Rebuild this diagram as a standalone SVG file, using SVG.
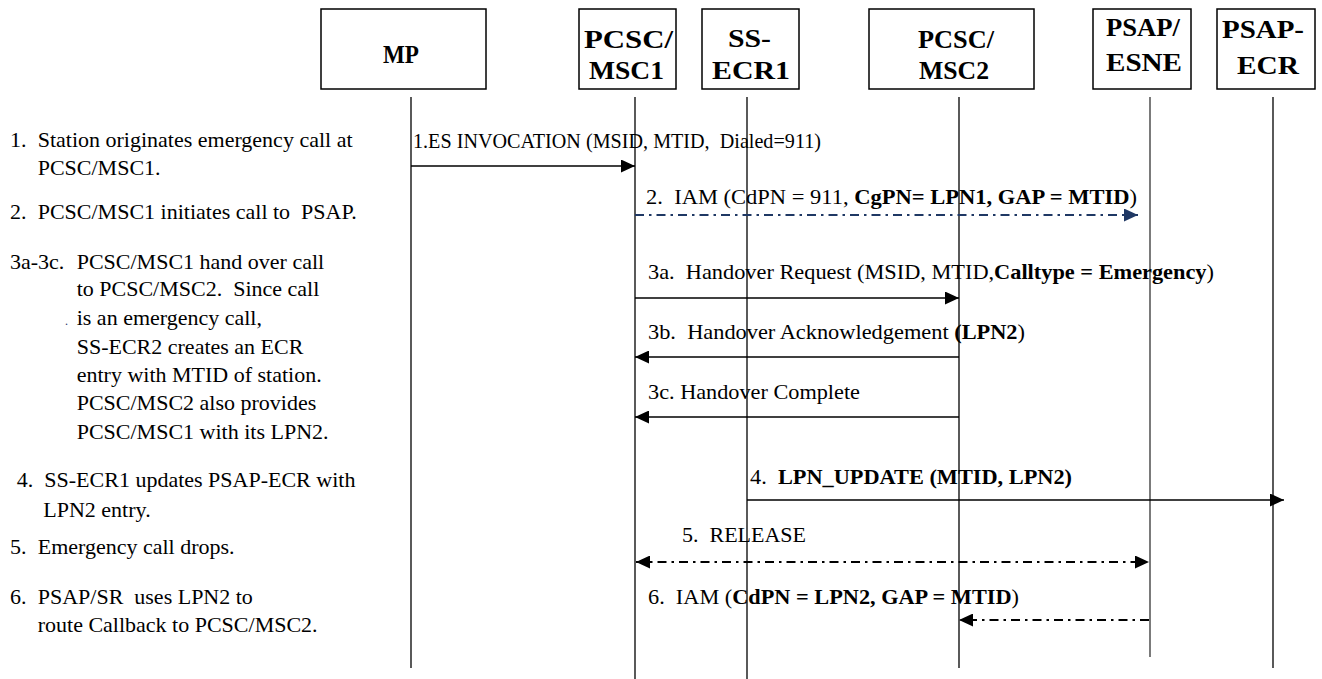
<svg xmlns="http://www.w3.org/2000/svg" width="1322" height="679" viewBox="0 0 1322 679" xml:space="preserve" font-family="'Liberation Serif', 'DejaVu Serif', serif">
  <style>
    text { white-space: pre; font-family: 'Liberation Serif', 'DejaVu Serif', serif; fill: #000; }
    .box { fill: #fff; stroke: #000; stroke-width: 1.5; }
    .hdr { font-size: 25px; font-weight: bold; }
    .life { stroke: #000; stroke-width: 1.3; fill: none; }
    .note { font-size: 22px; }
    .lbl { font-size: 22px; }
    .b { font-weight: bold; }
    .msg { stroke: #000; stroke-width: 1.6; fill: none; }
    .dd { stroke: #000; stroke-width: 2; fill: none; stroke-dasharray: 9 5 2.5 5; }
    .ddb { stroke: #1f3864; stroke-width: 2; fill: none; stroke-dasharray: 9 5 2.5 5; }
  </style>
  <defs>
    <marker id="arrow" markerUnits="userSpaceOnUse" markerWidth="14" markerHeight="13" refX="14" refY="6.5" orient="auto-start-reverse">
      <path d="M0,0 L14,6.5 L0,13 z" fill="#000"/>
    </marker>
    <marker id="arrowBlue" markerUnits="userSpaceOnUse" markerWidth="14" markerHeight="13" refX="14" refY="6.5" orient="auto">
      <path d="M0,0 L14,6.5 L0,13 z" fill="#1f3864"/>
    </marker>
  </defs>

  <!-- participants -->
  <g id="mp">
    <rect class="box" x="321" y="9" width="165" height="80"/>
    <text class="hdr" x="383" y="63" font-size="26" textLength="36" lengthAdjust="spacingAndGlyphs">MP</text>
  </g>
  <g id="pcsc-msc1">
    <rect class="box" x="579" y="9" width="97" height="80"/>
    <text class="hdr" x="584" y="48" textLength="89" lengthAdjust="spacingAndGlyphs">PCSC/</text>
    <text class="hdr" x="589" y="79" textLength="75" lengthAdjust="spacingAndGlyphs">MSC1</text>
  </g>
  <g id="ss-ecr1">
    <rect class="box" x="702" y="9" width="97" height="80"/>
    <text class="hdr" x="728" y="47" textLength="43" lengthAdjust="spacingAndGlyphs">SS-</text>
    <text class="hdr" x="712" y="79" textLength="78" lengthAdjust="spacingAndGlyphs">ECR1</text>
  </g>
  <g id="pcsc-msc2">
    <rect class="box" x="869" y="9" width="165" height="80"/>
    <text class="hdr" x="918" y="48" font-size="23" textLength="76" lengthAdjust="spacingAndGlyphs">PCSC/</text>
    <text class="hdr" x="919" y="79" font-size="23" textLength="70" lengthAdjust="spacingAndGlyphs">MSC2</text>
  </g>
  <g id="psap-esne">
    <rect class="box" x="1093" y="9" width="98" height="80"/>
    <text class="hdr" x="1106" y="36" textLength="74" lengthAdjust="spacingAndGlyphs">PSAP/</text>
    <text class="hdr" x="1106" y="71" textLength="76" lengthAdjust="spacingAndGlyphs">ESNE</text>
  </g>
  <g id="psap-ecr">
    <rect class="box" x="1217" y="9" width="98" height="80"/>
    <text class="hdr" x="1222" y="38" textLength="82" lengthAdjust="spacingAndGlyphs">PSAP-</text>
    <text class="hdr" x="1237" y="74" textLength="62" lengthAdjust="spacingAndGlyphs">ECR</text>
  </g>

  <!-- lifelines -->
  <g id="lifelines">
    <line class="life" x1="411" y1="97" x2="411" y2="668"/>
    <line class="life" x1="635" y1="97" x2="635" y2="679"/>
    <line class="life" x1="747" y1="97" x2="747" y2="679"/>
    <line class="life" x1="959" y1="97" x2="959" y2="668"/>
    <line class="life" x1="1150" y1="97" x2="1150" y2="657" style="stroke:#333"/>
    <line class="life" x1="1273" y1="97" x2="1273" y2="668"/>
  </g>

  <!-- step descriptions -->
  <g id="notes" class="note">
    <text y="147"><tspan x="10">1.</tspan><tspan x="37.7">Station originates emergency call at</tspan></text>
    <text x="37.7" y="175">PCSC/MSC1.</text>
    <text y="219"><tspan x="10">2.</tspan><tspan x="37.7">PCSC/MSC1 initiates call to  PSAP.</tspan></text>
    <text y="269"><tspan x="10">3a-3c.</tspan><tspan x="76.7">PCSC/MSC1 hand over call</tspan></text>
    <text x="76.7" y="296">to PCSC/MSC2.  Since call</text>
    <text x="65" y="325" font-size="12" style="fill:#1f3864">.</text>
    <text x="76.7" y="325">is an emergency call,</text>
    <text x="76.7" y="354">SS-ECR2 creates an ECR</text>
    <text x="76.7" y="382">entry with MTID of station.</text>
    <text x="76.7" y="410">PCSC/MSC2 also provides</text>
    <text x="76.7" y="439">PCSC/MSC1 with its LPN2.</text>
    <text y="487"><tspan x="16.7">4.</tspan><tspan x="44.3">SS-ECR1 updates PSAP-ECR with</tspan></text>
    <text x="43.3" y="517">LPN2 entry.</text>
    <text y="554"><tspan x="10">5.</tspan><tspan x="37.7">Emergency call drops.</tspan></text>
    <text y="604"><tspan x="10">6.</tspan><tspan x="37.7">PSAP/SR  uses LPN2 to</tspan></text>
    <text x="37.7" y="632">route Callback to PCSC/MSC2.</text>
  </g>

  <!-- messages -->
  <g id="connectors">
    <line class="msg" x1="411" y1="166" x2="635" y2="166" marker-end="url(#arrow)"/>
    <line class="ddb" x1="635" y1="215" x2="1138" y2="215" marker-end="url(#arrowBlue)"/>
    <line class="msg" x1="635" y1="298" x2="959" y2="298" marker-end="url(#arrow)"/>
    <line class="msg" x1="959" y1="357" x2="635" y2="357" marker-end="url(#arrow)"/>
    <line class="msg" x1="959" y1="417" x2="635" y2="417" marker-end="url(#arrow)"/>
    <line class="msg" x1="747" y1="500" x2="1284" y2="500" marker-end="url(#arrow)"/>
    <line class="dd" x1="636" y1="562" x2="1149" y2="562" marker-start="url(#arrow)" marker-end="url(#arrow)"/>
    <line class="dd" x1="1149" y1="620" x2="959" y2="620" marker-end="url(#arrow)"/>
  </g>

  <!-- message labels -->
  <g id="labels" class="lbl">
    <text x="413" y="148" textLength="408" lengthAdjust="spacingAndGlyphs">1.ES INVOCATION (MSID, MTID,  Dialed=911)</text>
    <text x="646" y="204" textLength="491" lengthAdjust="spacingAndGlyphs">2.  IAM (CdPN = 911, <tspan class="b">CgPN= LPN1, GAP = MTID</tspan>)</text>
    <text x="648" y="279" textLength="566" lengthAdjust="spacingAndGlyphs">3a.  Handover Request (MSID, MTID,<tspan class="b">Calltype = Emergency</tspan>)</text>
    <text x="648" y="339" textLength="377" lengthAdjust="spacingAndGlyphs">3b.  Handover Acknowledgement <tspan class="b">(LPN2</tspan>)</text>
    <text x="648" y="399" textLength="212" lengthAdjust="spacingAndGlyphs">3c. Handover Complete</text>
    <text x="750" y="484" textLength="322" lengthAdjust="spacingAndGlyphs">4.  <tspan class="b">LPN_UPDATE (MTID, LPN2)</tspan></text>
    <text x="682" y="542" textLength="124" lengthAdjust="spacingAndGlyphs">5.  RELEASE</text>
    <text x="648" y="604" textLength="371" lengthAdjust="spacingAndGlyphs">6.  IAM (<tspan class="b">CdPN = LPN2, GAP = MTID</tspan>)</text>
  </g>
</svg>
